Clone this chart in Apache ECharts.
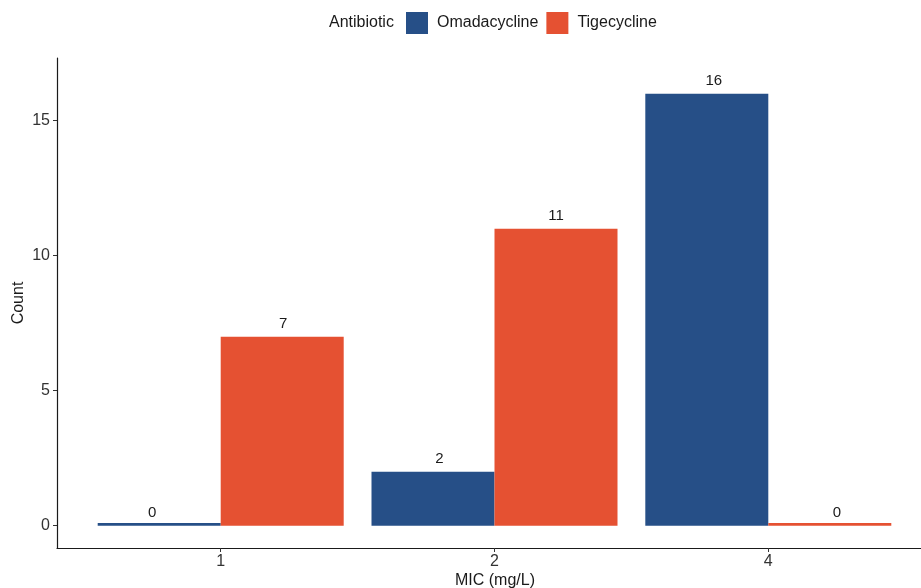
<!DOCTYPE html>
<html>
<head>
<meta charset="utf-8">
<script src="https://cdn.jsdelivr.net/npm/echarts@6/dist/echarts.min.js"></script>
<style>
html,body{margin:0;padding:0;background:#fff;}
#chart{width:921px;height:588px;}
</style>
</head>
<body>
<div id="chart"></div>
<script>
var categories = ["1", "2", "4"];
var categoryPositions = [1, 2, 3];
var seriesNames = ["Omadacycline", "Tigecycline"];
var omadacycline = [0, 2, 16];
var tigecycline = [7, 11, 0];
var yTicks = [0, 5, 10, 15];
var colors = ["#264F87", "#E55132"];
// horizontal nudge of value labels (pixels), as seen in the reference
var omaLabelDx = [-7, 6.5, 7];
var tigLabelDx = [1, 0, 7];
var FONT = "Liberation Sans, Arial, Helvetica, sans-serif";

function buildData(vals, dxs) {
  return vals.map(function (v, i) {
    return {
      value: [categoryPositions[i], v === 0 ? 0.1 : v],
      count: v,
      label: { offset: [dxs[i], v === 0 ? 2.7 : 0] }
    };
  });
}

function makeSeries(name, vals, dxs, color) {
  return {
    name: name,
    type: 'bar',
    data: buildData(vals, dxs),
    barWidth: 123,
    barGap: '0%',
    itemStyle: { color: color },
    label: {
      show: true,
      position: 'top',
      distance: 5,
      fontFamily: FONT,
      fontSize: 15,
      color: '#1a1a1a',
      formatter: function (p) { return String(p.data.count); }
    },
    emphasis: { disabled: true }
  };
}

var chart = echarts.init(document.getElementById('chart'), null, { renderer: 'canvas' });
chart.setOption({
  animation: false,
  backgroundColor: '#fff',
  textStyle: { fontFamily: FONT },
  grid: { left: 57, right: 0, top: 58, bottom: 40, containLabel: false },
  legend: {
    data: seriesNames,
    left: 406,
    top: 12,
    padding: 0,
    itemWidth: 22,
    itemHeight: 22,
    itemGap: 8,
    icon: 'rect',
    textStyle: { fontFamily: FONT, fontSize: 16, color: '#1a1a1a', padding: [4, 0, 0, 4] }
  },
  xAxis: {
    type: 'value',
    min: 0.4021,
    max: 3.5577,
    splitLine: { show: false },
    axisLine: { show: true, onZero: false, lineStyle: { color: '#1a1a1a', width: 1.2 } },
    axisTick: { show: true, length: 4, customValues: categoryPositions, lineStyle: { color: '#333', width: 1 } },
    axisLabel: {
      show: true,
      customValues: categoryPositions,
      margin: 6,
      fontFamily: FONT,
      fontSize: 16,
      color: '#333',
      formatter: function (v) {
        var idx = categoryPositions.indexOf(Math.round(v));
        return idx >= 0 ? categories[idx] : '';
      }
    }
  },
  yAxis: {
    type: 'value',
    min: -0.826,
    max: 17.32,
    splitLine: { show: false },
    axisLine: { show: true, onZero: false, lineStyle: { color: '#1a1a1a', width: 1.2 } },
    axisTick: { show: true, length: 4, customValues: yTicks, lineStyle: { color: '#333', width: 1 } },
    axisLabel: {
      show: true,
      customValues: yTicks,
      margin: 7,
      fontFamily: FONT,
      fontSize: 16,
      color: '#333'
    }
  },
  series: [
    makeSeries(seriesNames[0], omadacycline, omaLabelDx, colors[0]),
    makeSeries(seriesNames[1], tigecycline, tigLabelDx, colors[1])
  ],
  graphic: [
    {
      type: 'text', left: 329, top: 15,
      style: { text: 'Antibiotic', font: '16px ' + FONT, fill: '#1a1a1a' }
    },
    {
      type: 'text', x: 495, y: 581,
      style: { text: 'MIC (mg/L)', font: '16px ' + FONT, fill: '#1a1a1a', align: 'center', verticalAlign: 'middle' }
    },
    {
      type: 'text', x: 19, y: 303, rotation: Math.PI / 2,
      style: { text: 'Count', font: '16px ' + FONT, fill: '#1a1a1a', align: 'center', verticalAlign: 'middle' }
    }
  ]
});
</script>
</body>
</html>
